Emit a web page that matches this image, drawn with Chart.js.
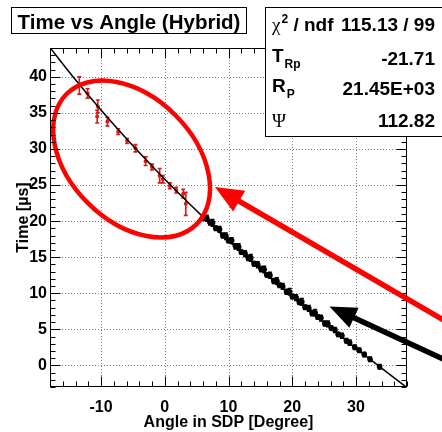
<!DOCTYPE html>
<html><head><meta charset="utf-8">
<script src="https://cdn.jsdelivr.net/npm/chart.js@4.4.0/dist/chart.umd.min.js"></script>
<style>html,body{margin:0;padding:0;background:#fff;overflow:hidden}</style>
</head><body>
<canvas id="c" width="442" height="432" style="display:block;width:442px;height:432px"></canvas>
<script>
// ---------------- data ----------------
const redAngle = [-13.4, -12.1, -10.5, -10.6, -9.0, -7.3, -5.9, -4.6, -3.0, -2.0, -0.8, -0.3, 0.8, 1.8, 2.9, 3.3];
const redTime  = [38.8, 37.7, 35.9, 34.5, 33.8, 32.4, 31.1, 30.1, 28.3, 27.5, 26.3, 25.8, 24.9, 24.3, 23.8, 22.4];
const redErr   = [1.2, 0.65, 0.9, 0.9, 0.6, 0.4, 0.35, 0.5, 0.6, 0.4, 1.0, 0.5, 0.4, 0.4, 0.6, 1.6];

const blackAngle = [6.0,6.6,7.1,7.5,8.0,8.6,9.1,9.6,10.0,10.5,11.1,11.6,12.0,12.6,13.1,13.5,14.0,14.6,15.1,15.6,16.0,16.5,17.1,17.6,18.0,18.5,19.1,19.6,20.0,20.6,21.1,21.5,22.0,22.6,23.1,23.6,24.0,24.5,25.1,25.6,26.1,26.7,27.2,27.8,28.5,29.0,29.8,30.5,31.3,32.2,33.7];
const blackTime  = [20.4,20.4,19.8,19.75,19.0,18.85,18.0,17.9,17.3,17.3,16.5,16.4,15.7,15.5,14.9,14.9,14.1,13.95,13.35,13.3,12.55,12.5,11.7,11.7,11.1,10.95,10.2,10.2,9.55,9.4,8.8,8.8,8.05,7.9,7.25,7.3,6.7,6.55,5.8,5.75,5.2,4.9,4.3,4.1,3.4,3.15,2.5,2.1,1.5,0.85,-0.2];
const blackErr   = [0.3,0.4,0.35,0.45,0.3,0.4,0.35,0.45,0.3,0.4,0.35,0.45,0.3,0.4,0.35,0.45,0.3,0.4,0.35,0.45,0.3,0.4,0.35,0.45,0.3,0.4,0.35,0.45,0.3,0.4,0.35,0.45,0.3,0.4,0.35,0.45,0.3,0.4,0.35,0.4,0.3,0.35,0.3,0.35,0.3,0.35,0.3,0.3,0.3,0.3,0.3];

const fitAngle = [-18, -14, -10, -6, -2, 2, 6, 10, 14, 18, 22, 26, 30, 34, 38];
const fitTime  = [44.05, 39.59, 35.40, 31.42, 27.65, 24.03, 20.59, 17.28, 14.11, 11.03, 8.06, 5.17, 2.36, -0.39, -3.09];

const xTickValues = [-10, 0, 10, 20, 30];
const yTickValues = [0, 5, 10, 15, 20, 25, 30, 35, 40];

const titleText = 'Time vs Angle (Hybrid)';
const xTitle = 'Angle in SDP [Degree]';
const yTitle = 'Time [\u00B5s]';
const statValues = ['115.13 / 99', '-21.71', '21.45E+03', '112.82'];

// ---------------- styling ----------------
const SANS = '"Liberation Sans", Arial, Helvetica, sans-serif';
const SERIF = '"Liberation Serif", "DejaVu Serif", serif';
const RED = '#e01818';
const ANN_RED = '#ff0000';

const toXY = (xs, ys) => xs.map((v, i) => ({x: v, y: ys[i]}));

const rootPlugin = {
  id: 'rootStyle',
  beforeDatasetsDraw(chart) {
    const {ctx, chartArea: a, scales: {x, y}} = chart;
    ctx.save();
    ctx.strokeStyle = '#808080'; ctx.lineWidth = 1; ctx.setLineDash([1, 2]);
    xTickValues.forEach(v => {
      const px = Math.round(x.getPixelForValue(v)) + 0.5;
      ctx.beginPath(); ctx.moveTo(px, a.top); ctx.lineTo(px, a.bottom); ctx.stroke();
    });
    yTickValues.forEach(v => {
      const py = Math.round(y.getPixelForValue(v)) + 0.5;
      ctx.beginPath(); ctx.moveTo(a.left, py); ctx.lineTo(a.right, py); ctx.stroke();
    });
    ctx.restore();
    // error bars
    ctx.save();
    ctx.beginPath(); ctx.rect(a.left, a.top, a.right - a.left, a.bottom - a.top); ctx.clip();
    chart.data.datasets.forEach(ds => {
      if (!ds.errors) return;
      ctx.strokeStyle = ds.backgroundColor; ctx.lineWidth = 1.6;
      ds.data.forEach((p, j) => {
        const e = ds.errors[j];
        const px = x.getPixelForValue(p.x);
        const y1 = y.getPixelForValue(p.y - e), y2 = y.getPixelForValue(p.y + e);
        ctx.beginPath();
        ctx.moveTo(px, y1); ctx.lineTo(px, y2);
        ctx.moveTo(px - 2, y1); ctx.lineTo(px + 2, y1);
        ctx.moveTo(px - 2, y2); ctx.lineTo(px + 2, y2);
        ctx.stroke();
      });
    });
    ctx.restore();
  },
  afterDatasetsDraw(chart) {
    const {ctx, chartArea: a, scales: {x, y}} = chart;
    // ellipse annotation
    ctx.save();
    ctx.strokeStyle = ANN_RED; ctx.lineWidth = 4.5;
    ctx.beginPath();
    ctx.ellipse(x.getPixelForValue(-5.2), y.getPixelForValue(28.6), 92, 62, Math.PI / 4, 0, Math.PI * 2);
    ctx.stroke();
    ctx.restore();
    // frame and ticks
    ctx.save();
    ctx.strokeStyle = '#000'; ctx.lineWidth = 1;
    const L = Math.round(a.left) + 0.5, R = Math.round(a.right) - 0.5, T = Math.round(a.top) + 0.5, B = Math.round(a.bottom) - 0.5;
    ctx.strokeRect(L, T, R - L, B - T);
    ctx.beginPath();
    for (let v = -18; v <= 38; v += 2) {
      const px = Math.round(x.getPixelForValue(v)) + 0.5;
      const len = (v % 10 === 0) ? 10 : 5;
      ctx.moveTo(px, B); ctx.lineTo(px, B - len);
      ctx.moveTo(px, T); ctx.lineTo(px, T + len);
    }
    for (let v = -3; v <= 44; v += 1) {
      const py = Math.round(y.getPixelForValue(v)) + 0.5;
      const len = (v % 5 === 0) ? 10 : 5;
      ctx.moveTo(L, py); ctx.lineTo(L + len, py);
      ctx.moveTo(R, py); ctx.lineTo(R - len, py);
    }
    ctx.stroke();
    ctx.restore();
  },
  afterDraw(chart) {
    const {ctx, chartArea: a, scales: {x, y}} = chart;
    const arrow = (tx, ty, sx, sy, color, lw, hl, hw) => {
      const dx = sx - tx, dy = sy - ty, d = Math.hypot(dx, dy);
      const ux = dx / d, uy = dy / d, nx = -uy, ny = ux;
      ctx.save();
      ctx.strokeStyle = color; ctx.fillStyle = color; ctx.lineWidth = lw;
      ctx.beginPath(); ctx.moveTo(tx + ux * hl * 0.8, ty + uy * hl * 0.8); ctx.lineTo(sx, sy); ctx.stroke();
      ctx.beginPath();
      ctx.moveTo(tx, ty);
      ctx.lineTo(tx + ux * hl + nx * hw, ty + uy * hl + ny * hw);
      ctx.lineTo(tx + ux * hl - nx * hw, ty + uy * hl - ny * hw);
      ctx.closePath(); ctx.fill();
      ctx.restore();
    };
    arrow(x.getPixelForValue(7.88), y.getPixelForValue(24.73), x.getPixelForValue(43.96), y.getPixelForValue(6.16), ANN_RED, 5.5, 28, 12);
    arrow(x.getPixelForValue(25.84), y.getPixelForValue(8.17), x.getPixelForValue(43.96), y.getPixelForValue(0.75), '#000', 5.5, 27, 11);

    ctx.save();
    // axis titles
    ctx.fillStyle = '#000';
    ctx.font = `bold 16px ${SANS}`;
    ctx.textAlign = 'center'; ctx.textBaseline = 'alphabetic';
    ctx.fillText(xTitle, (a.left + a.right) / 2, 427);
    ctx.save();
    ctx.translate(28, (a.top + a.bottom) / 2);
    ctx.rotate(-Math.PI / 2);
    ctx.fillText(yTitle, 0, 0);
    ctx.restore();

    // title box
    ctx.fillStyle = '#fff'; ctx.fillRect(11.5, 7.5, 235, 26);
    ctx.strokeStyle = '#000'; ctx.lineWidth = 1; ctx.strokeRect(11.5, 7.5, 235, 26);
    ctx.fillStyle = '#000'; ctx.font = `bold 20.5px ${SANS}`; ctx.textAlign = 'center';
    ctx.fillText(titleText, 129, 28.5);

    // stats box
    ctx.fillStyle = '#fff'; ctx.fillRect(265.5, 7.5, 180, 129);
    ctx.strokeRect(265.5, 7.5, 180, 129);
    ctx.fillStyle = '#000';
    const big = `bold 19px ${SANS}`, small = `bold 12px ${SANS}`;
    const lx = 272, rx = 435;
    const rows = [31, 64.5, 95, 126.5];
    ctx.textAlign = 'left';
    ctx.font = `19px ${SERIF}`; ctx.fillText('\u03C7', lx, rows[0]);
    let w = ctx.measureText('\u03C7').width;
    ctx.font = small; ctx.fillText('2', lx + w + 1, rows[0] - 8);
    let w2 = ctx.measureText('2').width;
    ctx.font = big; ctx.fillText(' / ndf', lx + w + w2 + 1, rows[0]);
    ctx.font = big; ctx.fillText('T', lx, rows[1] - 3);
    w = ctx.measureText('T').width;
    ctx.font = small; ctx.fillText('Rp', lx + w + 1, rows[1] + 3);
    ctx.font = big; ctx.fillText('R', lx, rows[2] - 3);
    w = ctx.measureText('R').width;
    ctx.font = small; ctx.fillText('P', lx + w + 1, rows[2] + 3);
    ctx.font = `19px ${SERIF}`; ctx.fillText('\u03A8', lx, rows[3]);
    ctx.font = big; ctx.textAlign = 'right';
    statValues.forEach((s, i) => ctx.fillText(s, rx, rows[i]));
    ctx.restore();
  }
};

new Chart(document.getElementById('c'), {
  type: 'scatter',
  data: {
    datasets: [
      {
        type: 'line', label: 'fit', data: toXY(fitAngle, fitTime),
        borderColor: '#000', borderWidth: 1.5, pointRadius: 0, fill: false,
        cubicInterpolationMode: 'monotone'
      },
      {
        label: 'hybrid', data: toXY(redAngle, redTime), errors: redErr,
        backgroundColor: RED, borderColor: RED, pointRadius: 2, borderWidth: 0
      },
      {
        label: 'fd', data: toXY(blackAngle, blackTime), errors: blackErr,
        backgroundColor: '#000', borderColor: '#000', pointRadius: 2.8, borderWidth: 0
      }
    ]
  },
  options: {
    responsive: false, animation: false, devicePixelRatio: 1,
    layout: {padding: {top: 48, right: 35, left: 0, bottom: 0}},
    plugins: {legend: {display: false}, tooltip: {enabled: false}, title: {display: false}},
    scales: {
      x: {
        type: 'linear', min: -18, max: 38,
        afterBuildTicks: s => { s.ticks = xTickValues.map(v => ({value: v})); },
        afterFit: s => { s.height = 45; },
        grid: {display: false, drawTicks: false}, border: {display: false},
        ticks: {color: '#000', font: {family: SANS, size: 16, weight: 'bold'}, padding: 11, maxRotation: 0, autoSkip: false}
      },
      y: {
        type: 'linear', min: -3, max: 44,
        afterBuildTicks: s => { s.ticks = yTickValues.map(v => ({value: v})); },
        afterFit: s => { s.width = 50; },
        grid: {display: false, drawTicks: false}, border: {display: false},
        ticks: {color: '#000', font: {family: SANS, size: 16, weight: 'bold'}, padding: 3, autoSkip: false}
      }
    }
  },
  plugins: [rootPlugin]
});
</script>
</body></html>
